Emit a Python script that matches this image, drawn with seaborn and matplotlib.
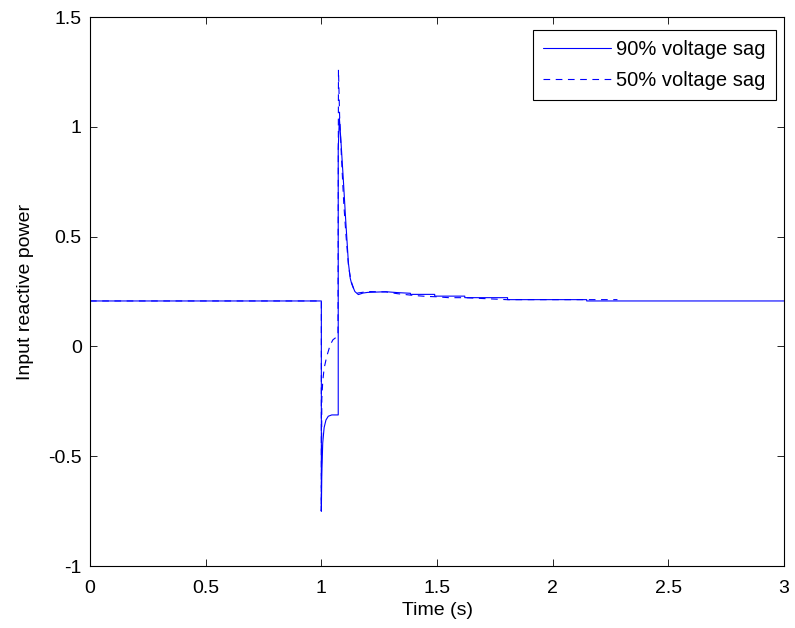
import matplotlib
matplotlib.use("Agg")
import matplotlib.pyplot as plt
import seaborn as sns
import pandas as pd

# ---- data ----
t_90 = [0.0, 1.0, 1.0, 1.002, 1.006, 1.012, 1.02, 1.03, 1.045, 1.073, 1.073, 1.078,
        1.085, 1.095, 1.105, 1.117, 1.125, 1.131, 1.145, 1.16, 1.18, 1.2, 1.28, 1.33,
        1.385, 1.385, 1.49, 1.49, 1.62, 1.62, 1.805, 1.805, 2.147, 2.147, 3.0]
q_90 = [0.207, 0.207, -0.75, -0.58, -0.44, -0.37, -0.335, -0.318, -0.312, -0.312, 0.9, 1.04,
        0.93, 0.76, 0.58, 0.38, 0.31, 0.285, 0.25, 0.236, 0.243, 0.246, 0.249, 0.245,
        0.242, 0.237, 0.237, 0.229, 0.229, 0.222, 0.222, 0.213, 0.213, 0.207, 0.207]

t_50 = [0.0, 1.0, 1.0, 1.002, 1.006, 1.012, 1.023, 1.038, 1.05, 1.067, 1.072, 1.074,
        1.079, 1.087, 1.097, 1.107, 1.118, 1.128, 1.14, 1.155, 1.17, 1.2, 1.28, 1.33,
        1.40, 1.45, 1.50, 1.55, 1.62, 1.70, 1.80, 2.0, 2.28]
q_50 = [0.207, 0.207, -0.75, -0.24, -0.16, -0.1, -0.047, 0.006, 0.03, 0.044, 0.05, 1.26,
        1.05, 0.86, 0.65, 0.5, 0.36, 0.3, 0.262, 0.243, 0.245, 0.25, 0.248, 0.24,
        0.232, 0.228, 0.226, 0.222, 0.222, 0.218, 0.213, 0.213, 0.213]

label_90 = "90% voltage sag"
label_50 = "50% voltage sag"
x_ticks = [0, 0.5, 1, 1.5, 2, 2.5, 3]
x_ticklabels = ["0", "0.5", "1", "1.5", "2", "2.5", "3"]
y_ticks = [-1, -0.5, 0, 0.5, 1, 1.5]
y_ticklabels = ["-1", "-0.5", "0", "0.5", "1", "1.5"]

df90 = pd.DataFrame({"t": t_90, "q": q_90})
df50 = pd.DataFrame({"t": t_50, "q": q_50})

sns.set_style("ticks")
plt.rcParams["font.family"] = ["Liberation Sans", "DejaVu Sans"]
plt.rcParams["text.color"] = "black"
plt.rcParams["axes.labelcolor"] = "black"
plt.rcParams["xtick.color"] = "black"
plt.rcParams["ytick.color"] = "black"
plt.rcParams["xtick.direction"] = "in"
plt.rcParams["ytick.direction"] = "in"

FS = 14

fig = plt.figure(figsize=(7.95, 6.28), dpi=100)
ax = fig.add_axes([0.1132, 0.0987, 0.8730, 0.8742])

sns.lineplot(data=df90, x="t", y="q", ax=ax, sort=False, estimator=None,
             color="#0000ff", linewidth=0.8, label=label_90)
sns.lineplot(data=df50, x="t", y="q", ax=ax, sort=False, estimator=None,
             color="#0000ff", linewidth=0.8, linestyle=(0, (6, 5)), label=label_50)

ax.set_xlim(0, 3)
ax.set_ylim(-1, 1.5)
ax.set_xticks(x_ticks)
ax.set_xticklabels(x_ticklabels)
ax.set_yticks(y_ticks)
ax.set_yticklabels(y_ticklabels)
ax.tick_params(top=True, right=True, direction="in", length=5, width=0.6,
               labelsize=FS, colors="black")
ax.tick_params(axis="x", pad=10)
ax.tick_params(axis="y", pad=6)
for s in ax.spines.values():
    s.set_linewidth(0.8)
    s.set_color("black")
    s.set_visible(True)

ax.set_xlabel("Time (s)", fontsize=FS, labelpad=4)
ax.set_ylabel("Input reactive power", fontsize=FS, labelpad=10)

leg = ax.legend(loc="upper right", bbox_to_anchor=(0.9885, 0.976), fontsize=14.5,
                frameon=True, fancybox=False, framealpha=1, edgecolor="black",
                handlelength=3.4, handletextpad=0.25, borderpad=0.5,
                labelspacing=0.6, borderaxespad=0)
leg.get_frame().set_linewidth(0.8)

fig.savefig("out.png", dpi=100)
